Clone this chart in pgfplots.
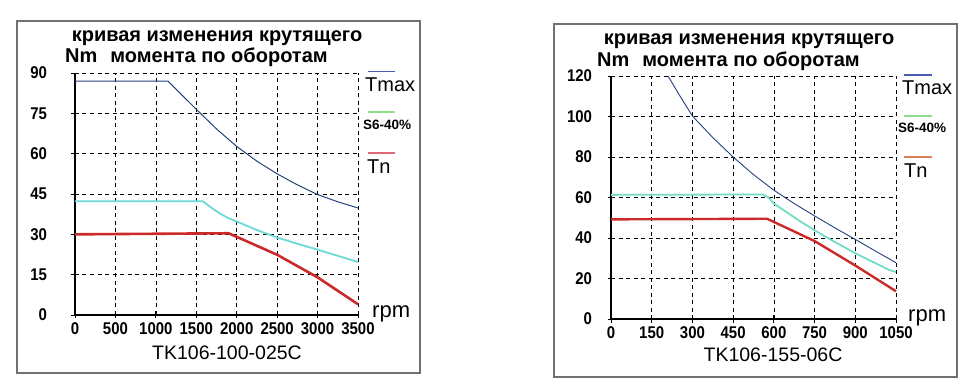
\documentclass[border=0pt]{standalone}
\usepackage{pgfplots}
\pgfplotsset{compat=1.18}
\usepackage{fontspec}
\setmainfont{Liberation Sans}
\newfontfamily\tickfont[FakeStretch=0.88]{Liberation Sans}
\definecolor{tmaxc}{HTML}{24407F}
\definecolor{s6c}{HTML}{6FD8D8}
\definecolor{s6cr}{HTML}{72DCC4}
\definecolor{tnc}{HTML}{CC2A2A}
\definecolor{legt}{HTML}{4A5CB0}
\definecolor{legs}{HTML}{8EE08E}
\definecolor{legn}{HTML}{E06A78}
\definecolor{legn2}{HTML}{D8805E}
\definecolor{framec}{HTML}{707070}
\pgfplotsset{
  motor/.style={
    scale only axis,
    anchor=south west,
    axis lines=left,
    axis line style={-, black, line width=1.2pt},
    grid=major,
    major grid style={black, line width=0.7pt, dash pattern=on 4pt off 3.5pt},
    tick align=center,
    major tick length=7pt,
    tick style={black, line width=0.9pt},
    scaled ticks=false,
    /pgf/number format/assume math mode=true,
    /pgf/number format/1000 sep={},
    xticklabel style={font=\tickfont\bfseries\fontsize{17}{17}\selectfont, yshift=-1pt},
    yticklabel style={font=\tickfont\bfseries\fontsize{17}{17}\selectfont},
    clip=false,
  }
}
\begin{document}
\begin{tikzpicture}[x=1pt,y=1pt]
\path (0,0) rectangle (970,386);
% ---------- left chart ----------
\draw[framec, line width=1.3pt] (17,13) rectangle (420,365);
\begin{axis}[motor, at={(75pt,71pt)}, width=283pt, height=242pt,
  xmin=0, xmax=3500, ymin=0, ymax=90,
  xtick={0,500,...,3500}, ytick={0,15,...,90},
  yticklabel style={xshift=-21pt}]
\addplot[tmaxc, line width=1pt] coordinates {(0,87)(1150,87)(1500,76.5)(1750,69.2)(2000,62.7)(2250,57.2)(2500,52.5)(2750,48.4)(3000,44.8)(3250,42.1)(3500,39.8)};
\addplot[s6c, line width=1.8pt] coordinates {(0,42.3)(1580,42.3)(1700,39.6)(1800,37.6)(1900,36)(2000,34.8)(2250,31.6)(2500,28.8)(2750,26.5)(3000,24.3)(3250,22)(3500,19.7)};
\addplot[tnc, line width=2.6pt] coordinates {(0,30)(1900,30.4)(2500,22.4)(3000,14)(3500,4)};
\end{axis}
\node[font=\bfseries\fontsize{20}{20}\selectfont, anchor=base] at (217,344) {кривая изменения крутящего};
\node[font=\bfseries\fontsize{20}{20}\selectfont, anchor=base west, inner sep=0pt] at (65,323) {Nm\hspace{13pt}момента по оборотам};
\draw[legt, line width=1.3pt] (368,314.5) -- (395,314.5);
\draw[legs, line width=1.6pt] (368,274) -- (395,274);
\draw[legn, line width=1.6pt] (368,233) -- (395,233);
\node[font=\fontsize{20}{20}\selectfont, anchor=base west, inner sep=0pt] at (365,294) {Tmax};
\node[font=\bfseries\fontsize{13.5}{13.5}\selectfont, anchor=base west, inner sep=0pt] at (363,256) {S6-40\%};
\node[font=\fontsize{20}{20}\selectfont, anchor=base west, inner sep=0pt] at (367,212) {Tn};
\node[font=\fontsize{22}{22}\selectfont, anchor=base west, inner sep=0pt] at (372,68) {rpm};
\node[font=\fontsize{19.5}{19.5}\selectfont, anchor=base] at (227,27) {TK106-100-025C};
% ---------- right chart ----------
\draw[framec, line width=1.3pt] (554,9) rectangle (957,362);
\begin{axis}[motor, at={(611pt,67pt)}, width=285pt, height=243pt,
  xmin=0, xmax=1050, ymin=0, ymax=120,
  xtick={0,150,...,1050}, ytick={0,20,...,120},
  yticklabel style={xshift=-12pt}]
\addplot[tmaxc, line width=0.9pt] coordinates {(210,120)(250,111)(300,100.2)(375,89.6)(450,80)(525,71.3)(600,63.6)(675,57)(750,50.9)(825,45)(900,39.3)(975,33.5)(1050,27.8)};
\addplot[s6cr, line width=1.8pt] coordinates {(0,61.3)(560,61.5)(580,60)(600,57)(650,52.5)(700,48)(750,43.8)(825,38)(900,32.5)(975,27.5)(1025,24.2)(1050,23.2)};
\addplot[tnc, line width=2.4pt] coordinates {(0,49.2)(575,49.5)(750,38.5)(900,26.4)(1050,13.7)};
\end{axis}
\node[font=\bfseries\fontsize{20}{20}\selectfont, anchor=base] at (749,341) {кривая изменения крутящего};
\node[font=\bfseries\fontsize{20}{20}\selectfont, anchor=base west, inner sep=0pt] at (597,319) {Nm\hspace{13pt}момента по оборотам};
\draw[legt, line width=1.3pt] (904,311) -- (932,311);
\draw[legs, line width=1.6pt] (904,270) -- (932,270);
\draw[legn2, line width=1.6pt] (904,229) -- (932,229);
\node[font=\fontsize{20}{20}\selectfont, anchor=base west, inner sep=0pt] at (902,291) {Tmax};
\node[font=\bfseries\fontsize{13.5}{13.5}\selectfont, anchor=base west, inner sep=0pt] at (898,253) {S6-40\%};
\node[font=\fontsize{20}{20}\selectfont, anchor=base west, inner sep=0pt] at (904,208) {Tn};
\node[font=\fontsize{22}{22}\selectfont, anchor=base west, inner sep=0pt] at (908,64) {rpm};
\node[font=\fontsize{19.5}{19.5}\selectfont, anchor=base] at (773,25) {TK106-155-06C};
\end{tikzpicture}
\end{document}
